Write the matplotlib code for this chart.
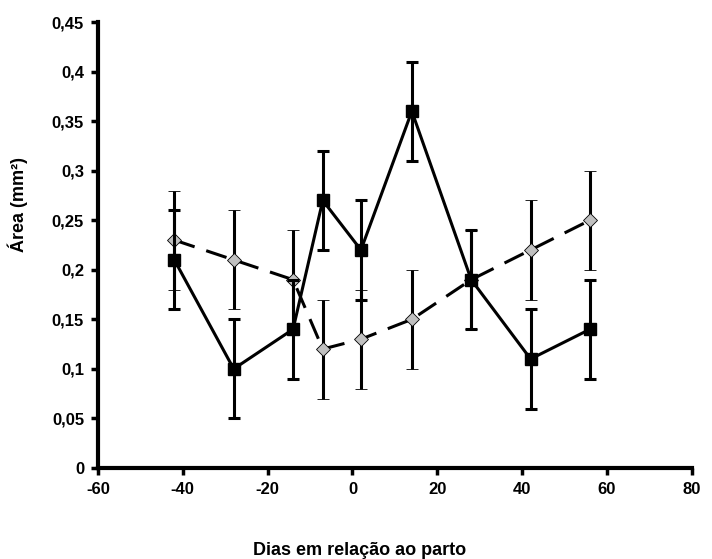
import matplotlib
matplotlib.use("Agg")
import matplotlib.pyplot as plt
from matplotlib.ticker import FuncFormatter

plt.rcParams.update({
    "font.family": ["Liberation Sans", "DejaVu Sans"],
    "font.weight": "bold",
    "font.size": 12,
    "axes.unicode_minus": False,
})

days = [-42, -28, -14, -7, 2, 14, 28, 42, 56]
area_solid = [0.21, 0.10, 0.14, 0.27, 0.22, 0.36, 0.19, 0.11, 0.14]
area_dashed = [0.23, 0.21, 0.19, 0.12, 0.13, 0.15, 0.19, 0.22, 0.25]
err_solid = [0.05] * 9
err_dashed = [0.05] * 9

x_ticks = [-60, -40, -20, 0, 20, 40, 60, 80]
y_ticks = [0, 0.05, 0.1, 0.15, 0.2, 0.25, 0.3, 0.35, 0.4, 0.45]

fig = plt.figure(figsize=(7.12, 5.59), dpi=100)
ax = fig.add_axes([0.1376, 0.1628, 0.834, 0.7978])

ax.errorbar(days, area_dashed, yerr=err_dashed, color="black", linestyle=(0, (7, 4)),
            linewidth=2.2, elinewidth=2.2, capsize=4.5, capthick=2.2,
            marker="D", markersize=7.5, markerfacecolor="#c0c0c0",
            markeredgecolor="black", markeredgewidth=0.6, zorder=3)
ax.errorbar(days, area_solid, yerr=err_solid, color="black", linestyle="-",
            linewidth=2.2, elinewidth=2.2, capsize=4.5, capthick=2.2,
            marker="s", markersize=8.5, markerfacecolor="black",
            markeredgecolor="black", zorder=4)

ax.set_xlim(-60, 80)
ax.set_ylim(0, 0.45)
ax.set_xticks(x_ticks)
ax.set_yticks(y_ticks)
ax.yaxis.set_major_formatter(FuncFormatter(lambda v, p: f"{v:g}".replace(".", ",")))

for s in ["top", "right"]:
    ax.spines[s].set_visible(False)
for s in ["left", "bottom"]:
    ax.spines[s].set_linewidth(3)
ax.tick_params(direction="out", length=5, width=2.5, labelsize=12, pad=5)
for lbl in ax.get_xticklabels() + ax.get_yticklabels():
    lbl.set_fontweight("bold")

ax.set_xlabel("Dias em relação ao parto", fontsize=13, fontweight="bold")
ax.set_ylabel("Área (mm²)", fontsize=13, fontweight="bold")
ax.xaxis.set_label_coords(0.441, -0.165)
ax.yaxis.set_label_coords(-0.118, 0.59)

fig.savefig("out.png", dpi=100)
